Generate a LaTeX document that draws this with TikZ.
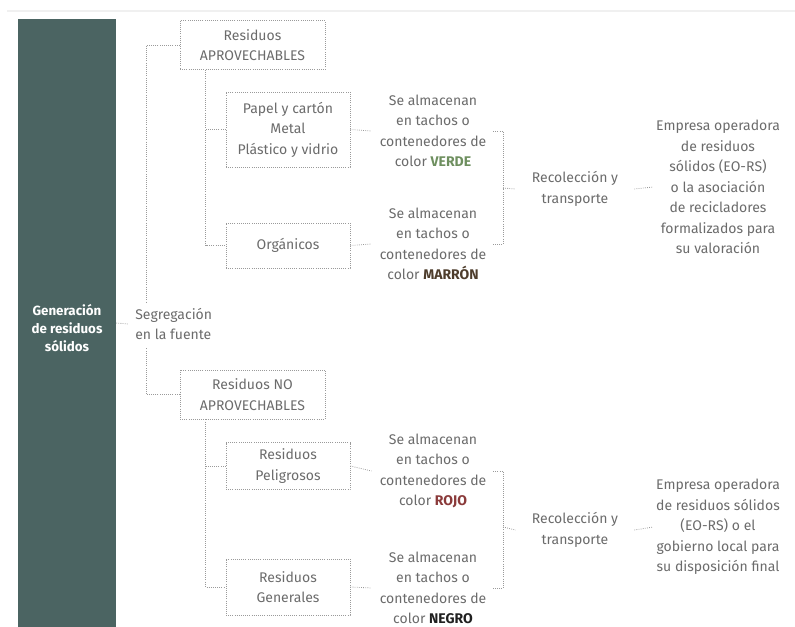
\documentclass[tikz,border=0pt]{standalone}
\usepackage{fontspec}
\setmainfont{Fira Sans}
\usetikzlibrary{calc,positioning}
\definecolor{barra}{HTML}{4B6462}
\definecolor{gristexto}{HTML}{6B6B6B}
\definecolor{punto}{HTML}{9A9A9A}
\definecolor{verde}{HTML}{6E8F5F}
\definecolor{marron}{HTML}{4E3D2C}
\definecolor{rojo}{HTML}{8A3A3A}
\definecolor{negro}{HTML}{202020}
\tikzset{
  caja/.style={draw=punto, densely dotted, line width=0.6pt, text=gristexto, align=center,
    minimum width=93pt, inner sep=0pt, font=\fontsize{10.5}{15.4}\selectfont},
  letra/.style={text=gristexto, align=center, inner sep=0pt, font=\fontsize{10.5}{15.4}\selectfont},
  enlace/.style={draw=punto, densely dotted, line width=0.6pt},
}

\begin{document}
\begin{tikzpicture}[x=0.75pt,y=-0.75pt]
  \useasboundingbox (0,0) rectangle (795,627);
  %FRANJA
  \draw[gray!12, line width=1.5pt] (7,11) -- (795,11);
  %BARRA
  \node[fill=barra, minimum width=73.5pt, minimum height=456pt, inner sep=0pt] (barra) at (67,323) {};
  \node[text=white, align=center, font=\fontsize{10}{13.6}\selectfont\bfseries] (gen) at (67,328) {Generación\\de residuos\\sólidos};
  \node[letra, anchor=west, align=left] (seg) at (135,324) {Segregación\\en la fuente};
  %CAJAS
  \node[caja, minimum width=108.75pt, minimum height=36.75pt] (aprov) at (252.5,45) {Residuos\\APROVECHABLES};
  \node[caja, minimum height=56.25pt] (papel) at (288,129.5) {Papel y cartón\\Metal\\Plástico y vidrio};
  \node[caja, minimum height=33.75pt] (organ) at (288,245.5) {Orgánicos};
  \node[caja, minimum width=108.75pt, minimum height=36.75pt] (noaprov) at (252.5,394.5) {Residuos NO\\APROVECHABLES};
  \node[caja, minimum height=35.25pt] (pelig) at (288,466) {Residuos\\Peligrosos};
  \node[caja, minimum height=42pt] (gener) at (288,587) {Residuos\\Generales};
  %ALMACENAMIENTO
  \node[letra] (verde) at (433,131) {Se almacenan\\en tachos o\\contenedores de\\color \textbf{\color{verde}VERDE}};
  \node[letra] (marron) at (433,244) {Se almacenan\\en tachos o\\contenedores de\\color \textbf{\color{marron}MARRÓN}};
  \node[letra] (rojo) at (433,471) {Se almacenan\\en tachos o\\contenedores de\\color \textbf{\color{rojo}ROJO}};
  \node[letra] (negro) at (433,588) {Se almacenan\\en tachos o\\contenedores de\\color \textbf{\color{negro}NEGRO}};
  %RECOLECCION
  \node[letra] (reco1) at (575,189) {Recolección y\\transporte};
  \node[letra] (reco2) at (575,530) {Recolección y\\transporte};
  \node[letra] (emp1) at (718,187) {Empresa operadora\\de residuos\\sólidos (EO-RS)\\o la asociación\\de recicladores\\formalizados para\\su valoración};
  \node[letra] (emp2) at (718,527) {Empresa operadora\\de residuos sólidos\\(EO-RS) o el\\gobierno local para\\su disposición final};
  %ENLACES
  \draw[enlace] (barra.east) -- ([xshift=-5pt]seg.west);
  \coordinate (sa) at ($(seg.north west)+(11,-6)$);
  \coordinate (sb) at ($(seg.south west)+(11,8)$);
  \draw[enlace] (aprov.west) -| (sa);
  \draw[enlace] (noaprov.west) -| (sb);
  \coordinate (ta) at ($(aprov.south west)+(26,0)$);
  \coordinate (tb) at ($(noaprov.south west)+(26,0)$);
  \draw[enlace] (ta) |- (organ.west);
  \draw[enlace] (papel.west) -- (papel.west -| ta);
  \draw[enlace] (tb) |- (gener.west);
  \draw[enlace] (pelig.west) -- (pelig.west -| tb);
  \draw[enlace] (papel.east) -- ([xshift=-6pt]verde.west);
  \draw[enlace] (organ.east) -- ([xshift=-6pt]marron.west);
  \draw[enlace] (pelig.east) -- ([xshift=-6pt]rojo.west);
  \draw[enlace] (gener.east) -- ([xshift=-6pt]negro.west);
  %LLAVES
  \coordinate (c1) at (503,188);
  \coordinate (c2) at (503,527);
  \draw[enlace] ([xshift=5pt]verde.east) -| (c1) |- ([xshift=5pt]marron.east);
  \draw[enlace] ([xshift=5pt]rojo.east) -| (c2) |- ([xshift=5pt]negro.east);
  \draw[enlace] (c1) -- ([xshift=-12pt]reco1.west);
  \draw[enlace] (c2) -- ([xshift=-12pt]reco2.west);
  \draw[enlace] ([xshift=12pt]reco1.east) -- ([xshift=-2pt]emp1.west);
  \draw[enlace] ([xshift=12pt]reco2.east) -- ([xshift=-2pt]emp2.west);
\end{tikzpicture}
\end{document}
